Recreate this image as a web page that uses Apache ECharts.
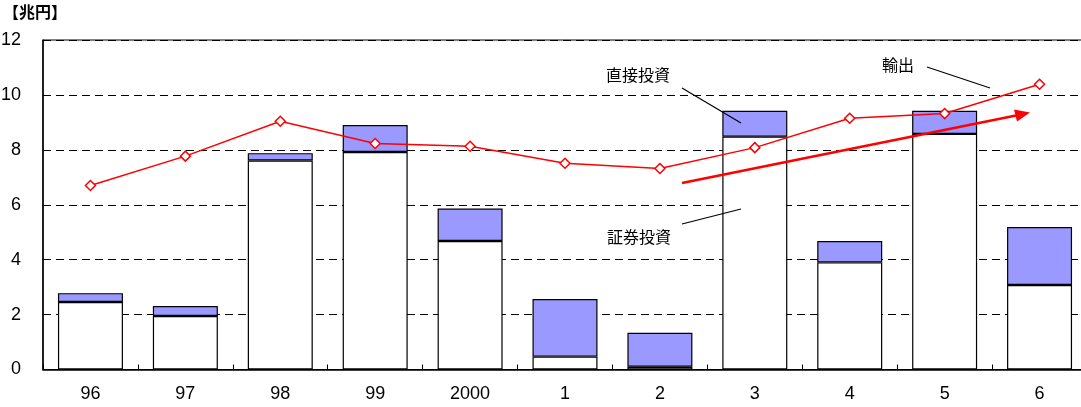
<!DOCTYPE html>
<html><head><meta charset="utf-8">
<script src="https://cdn.jsdelivr.net/npm/echarts@6/dist/echarts.min.js"></script>
<style>html,body{margin:0;padding:0;background:#fff}#c{width:1081px;height:407px}</style>
</head><body><div id="c"></div>
<script>
const categories = ['96','97','98','99','2000','1','2','3','4','5','6'];
const securities = [2.46, 1.95, 7.61, 7.92, 4.68, 0.47, 0.10, 8.48, 3.90, 8.58, 3.08];
const direct     = [0.32, 0.36, 0.27, 0.98, 1.18, 2.10, 1.24, 0.94, 0.78, 0.84, 2.11];
const exportsV   = [6.70, 7.77, 9.04, 8.23, 8.13, 7.51, 7.32, 8.08, 9.15, 9.32, 10.39];
const yTicks = [0, 2, 4, 6, 8, 10, 12];

const chart = echarts.init(document.getElementById('c'), null, {renderer: 'canvas'});
const numFont = "'Liberation Sans Narrow', 'Arial Narrow', 'Liberation Sans', sans-serif";
const jpFont = "'Noto Sans CJK JP', sans-serif";
chart.setOption({
  animation: false,
  backgroundColor: '#fff',
  grid: {left: 43, top: 40, width: 1044, height: 329.5, show: true, borderColor: '#000', borderWidth: 1,
         containLabel: false, outerBoundsMode: 'none'},
  xAxis: {
    type: 'category', data: categories,
    axisLine: {lineStyle: {color: '#000', width: 1.5}},
    axisTick: {show: true, inside: true, length: 5, lineStyle: {color: '#000'}},
    axisLabel: {color: '#000', fontFamily: numFont, fontSize: 18, margin: 16}
  },
  yAxis: {
    type: 'value', min: yTicks[0], max: yTicks[yTicks.length - 1], interval: 2,
    axisLine: {show: true, lineStyle: {color: '#000', width: 1.5}},
    axisTick: {show: false},
    axisLabel: {color: '#000', fontFamily: numFont, fontSize: 18, margin: 22},
    splitLine: {show: true, lineStyle: {color: '#000', type: [8, 5], width: 1}}
  },
  series: [
    {name: '証券投資', type: 'bar', stack: 'a', data: securities, barWidth: 65,
     itemStyle: {color: '#fff', borderColor: '#000', borderWidth: 1.2}},
    {name: '直接投資', type: 'bar', stack: 'a', data: direct, barWidth: 65,
     itemStyle: {color: '#9999ff', borderColor: '#000', borderWidth: 1.2}},
    {name: '輸出', type: 'line', data: exportsV, z: 5,
     symbol: 'diamond', symbolSize: [10, 10], showAllSymbol: true,
     lineStyle: {color: '#ff0000', width: 1.5},
     itemStyle: {color: '#fff', borderColor: '#ff0000', borderWidth: 1.5}}
  ],
  graphic: [
    {type: 'text', left: 3, top: 4, style: {text: '【兆円】', font: 'bold 16px ' + jpFont, fill: '#000'}},
    {type: 'text', x: 638, y: 75, style: {text: '直接投資', font: '16px ' + jpFont, fill: '#000', align: 'center', verticalAlign: 'middle'}},
    {type: 'text', x: 639, y: 237, style: {text: '証券投資', font: '16px ' + jpFont, fill: '#000', align: 'center', verticalAlign: 'middle'}},
    {type: 'text', x: 898, y: 65, style: {text: '輸出', font: '16px ' + jpFont, fill: '#000', align: 'center', verticalAlign: 'middle'}},
    {type: 'line', shape: {x1: 682, y1: 88, x2: 741, y2: 123}, style: {stroke: '#000', lineWidth: 1.2}, z: 10},
    {type: 'line', shape: {x1: 682, y1: 224, x2: 741, y2: 209}, style: {stroke: '#000', lineWidth: 1.2}, z: 10},
    {type: 'line', shape: {x1: 927, y1: 67, x2: 990, y2: 88}, style: {stroke: '#000', lineWidth: 1.2}, z: 10},
    {type: 'line', shape: {x1: 682, y1: 183, x2: 1016, y2: 115.5}, style: {stroke: '#ff0000', lineWidth: 2.5}, z: 10},
    {type: 'polygon', shape: {points: [[1030, 112.5], [1014, 109.5], [1017, 121.5]]}, style: {fill: '#ff0000'}, z: 10}
  ]
});
</script></body></html>
